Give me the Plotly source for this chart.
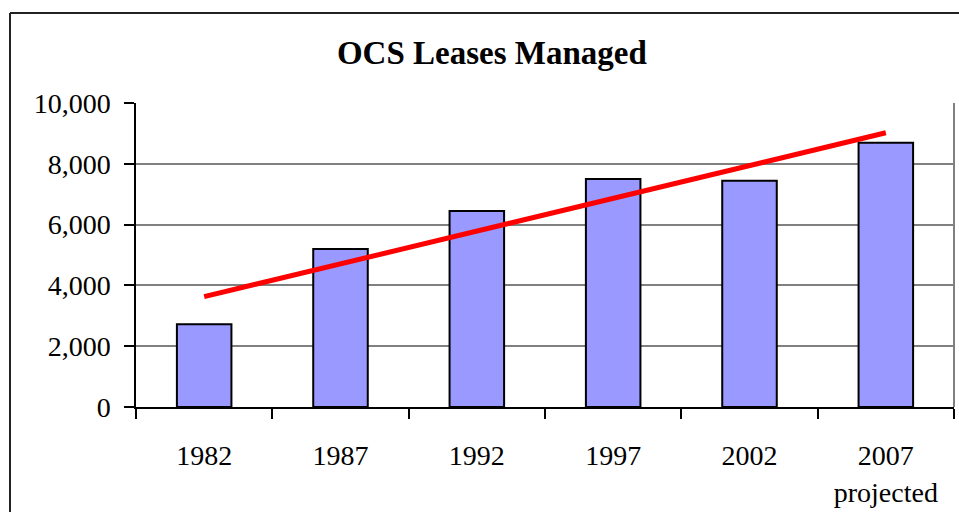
import plotly.graph_objects as go

years = ["1982", "1987", "1992", "1997", "2002", "2007"]
tick_labels = ["1982", "1987", "1992", "1997", "2002", "2007<br>projected"]
leases = [2720, 5200, 6450, 7500, 7440, 8690]
trend_years = ["1982", "2007"]
trend_values = [3630, 9020]
y_ticks = [0, 2000, 4000, 6000, 8000, 10000]
y_tick_text = ["0", "2,000", "4,000", "6,000", "8,000", "10,000"]

FONT = "Liberation Serif, Times New Roman, serif"

fig = go.Figure()
fig.add_trace(go.Bar(
    x=years, y=leases, width=0.4,
    marker=dict(color="#9999FF", line=dict(color="#000000", width=2)),
    hoverinfo="x+y", showlegend=False,
))
fig.add_trace(go.Scatter(
    x=trend_years, y=trend_values, mode="lines",
    line=dict(color="#FF0000", width=5),
    showlegend=False, hoverinfo="skip",
))

fig.update_layout(
    width=959, height=512,
    margin=dict(l=136, r=5, t=103, b=105),
    paper_bgcolor="white", plot_bgcolor="white",
    font=dict(family=FONT, size=28, color="#000000"),
    title=dict(text="<b>OCS Leases Managed</b>", font=dict(family=FONT, size=33, color="#000000"),
               xref="paper", x=0.435, xanchor="center",
               yref="container", y=1 - 52 / 512, yanchor="middle"),
    bargap=0.6,
)
fig.update_xaxes(
    type="category", categoryorder="array", categoryarray=years,
    tickmode="array", tickvals=years, ticktext=tick_labels,
    tickson="boundaries", ticks="outside", ticklen=10, tickwidth=1.5, tickcolor="#000000",
    showline=True, linecolor="#000000", linewidth=1.5,
    showgrid=False, ticklabelstandoff=23,
    tickfont=dict(family=FONT, size=28),
)
fig.update_yaxes(
    range=[0, 10000], tickmode="array", tickvals=y_ticks, ticktext=y_tick_text,
    ticks="outside", ticklen=10, tickwidth=1.5, tickcolor="#000000",
    showline=True, linecolor="#000000", linewidth=1.5,
    showgrid=True, gridcolor="#808080", gridwidth=1.5,
    zeroline=False, ticklabelstandoff=8,
    tickfont=dict(family=FONT, size=28),
)
# plot-area right border
fig.add_shape(type="line", xref="paper", yref="paper", x0=1, x1=1, y0=0, y1=1,
              line=dict(color="#808080", width=2))
# outer chart frame (top and left edges visible)
frame_left = (10 - 136) / 818
frame_top = (407 - 13) / 304
fig.add_shape(type="line", xref="paper", yref="paper",
              x0=frame_left, x1=1.05, y0=frame_top, y1=frame_top,
              line=dict(color="#222222", width=2), layer="below")
fig.add_shape(type="line", xref="paper", yref="paper",
              x0=frame_left, x1=frame_left, y0=frame_top, y1=-0.4,
              line=dict(color="#222222", width=2), layer="below")

fig.write_html(
    "out.html",
    config={"displayModeBar": False},
    post_script="document.documentElement.style.overflow='hidden';"
                "document.body.style.margin='0';document.body.style.overflow='hidden';",
)
